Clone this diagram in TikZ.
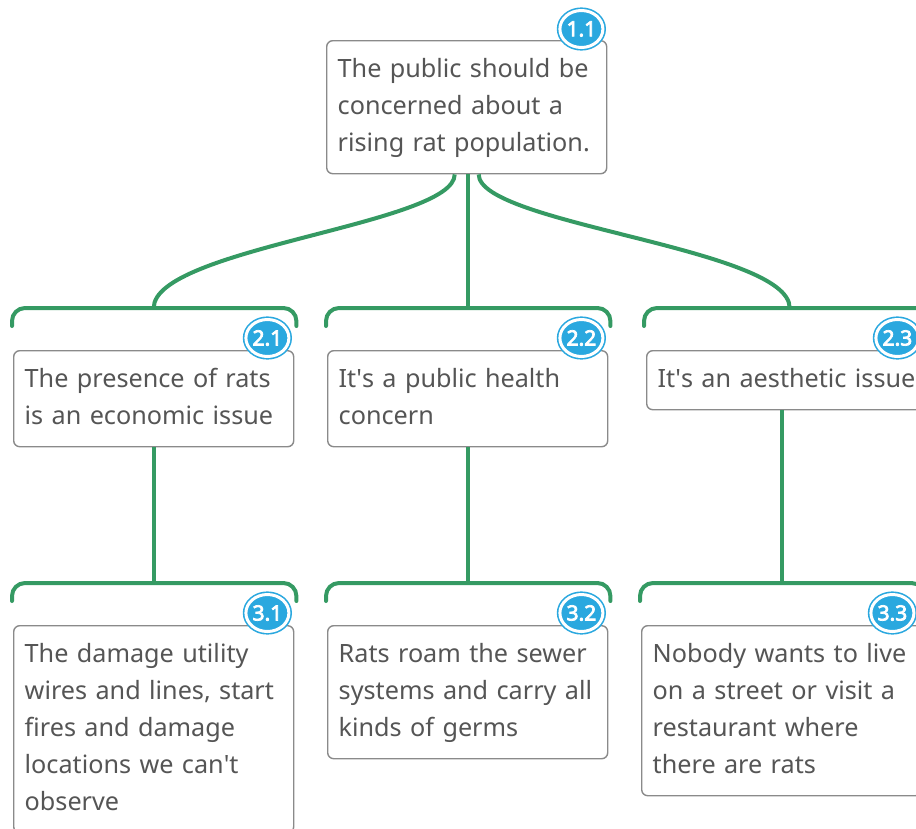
\documentclass[tikz,border=0pt]{standalone}
\usepackage{fontspec}
\setmainfont{Noto Sans}
\newfontfamily\badgefont{Noto Sans}[FakeBold=3.5]
\usepackage{tikz}
\usetikzlibrary{positioning}
\usetikzlibrary{shapes.geometric, calc}
\definecolor{linkgreen}{HTML}{359A63}
\definecolor{badgeblue}{HTML}{2AA8DF}
\definecolor{boxgray}{HTML}{8A8A8A}
\definecolor{textgray}{HTML}{555555}
\tikzstyle{claim} = [draw=boxgray,line width=1.4pt,rounded corners=6pt,fill=white,anchor=north west,text=textgray,font=\fontsize{25.2}{37}\selectfont,align=left,text width=258pt,inner xsep=11pt,inner ysep=11pt,execute at begin node=\strut,execute at end node=\strut]
\tikzstyle{badge} = [ellipse,draw=badgeblue,double=white,double distance=3pt,line width=1.6pt,fill=badgeblue,text=white,font=\fontsize{21}{21}\badgefont,minimum width=43pt,minimum height=37pt,inner sep=0pt]
\tikzstyle{link} = [draw=linkgreen,line width=4pt]
\tikzstyle{bracket} = [link,rounded corners=13pt,line cap=round]

\begin{document}
\begin{tikzpicture}[x=1pt,y=-1pt]
\useasboundingbox (0,0) rectangle (916,828);
\clip (0,0) rectangle (916,828);
%Nodes
\node[claim] (n11) at (326,40) {The public should be\\concerned about a\\rising rat population.};
\node[claim] (n21) at (13,350) {The presence of rats\\is an economic issue};
\node[claim] (n22) at (327,350) {It\textquotesingle s a public health\\concern};
\node[claim,text width=270pt] (n23) at (646,350) {It\textquotesingle s an aesthetic issue};
\node[claim] (n31) at (13,625) {The damage utility\\wires and lines, start\\fires and damage\\locations we can\textquotesingle t\\observe};
\node[claim] (n32) at (327,625) {Rats roam the sewer\\systems and carry all\\kinds of germs};
\node[claim] (n33) at (641,625) {Nobody wants to live\\on a street or visit a\\restaurant where\\there are rats};

%Badges
\node[badge] (t11) at ([shift={(-26,-11)}]n11.north east) {1.1};
\node[badge] (t21) at ([shift={(-27,-12)}]n21.north east) {2.1};
\node[badge] (t22) at ([shift={(-27,-12)}]n22.north east) {2.2};
\node[badge] (t23) at ([shift={(-42,-12)}]n23.north east) {2.3};
\node[badge] (t31) at ([shift={(-27,-12)}]n31.north east) {3.1};
\node[badge] (t32) at ([shift={(-27,-12)}]n32.north east) {3.2};
\node[badge] (t33) at ([shift={(-30,-12)}]n33.north east) {3.3};

%Brackets
\coordinate (b21) at ([yshift=42pt]n21.north);
\coordinate (b22) at ([yshift=42pt]n22.north);
\coordinate (b23) at ([shift={(-3,-42)}]n23.north);
\coordinate (b31) at ([yshift=42pt]n31.north);
\coordinate (b32) at ([yshift=42pt]n32.north);
\coordinate (b33) at ([yshift=42pt]n33.north);
\draw[bracket] ([shift={(-1,-24)}]n21.north west) |- (b21) -| ([shift={(2,-24)}]n21.north east);
\draw[bracket] ([shift={(-1,-24)}]n22.north west) |- (b22) -| ([shift={(2,-24)}]n22.north east);
\draw[bracket] ([shift={(-2,-24)}]n23.north west) |- (b23) -| ([shift={(2,-24)}]n23.north east);
\draw[bracket] ([shift={(-1,-24)}]n31.north west) |- (b31) -| ([shift={(2,-24)}]n31.north east);
\draw[bracket] ([shift={(-1,-24)}]n32.north west) |- (b32) -| ([shift={(2,-24)}]n32.north east);
\draw[bracket] ([shift={(-1,-24)}]n33.north west) |- (b33) -| ([shift={(2,-24)}]n33.north east);

%Lines
\draw[link] ([xshift=-12pt]n11.south) .. controls +(0,50) and +(0,-60) .. (b21);
\draw[link] (b22 |- n11.south) -- (b22);
\draw[link] ([xshift=12pt]n11.south) .. controls +(0,50) and +(0,-60) .. (b23);
\draw[link] (n21.south) -- (b31);
\draw[link] (n22.south) -- (b32);
\draw[link] (b33 |- n23.south) -- (b33);
\end{tikzpicture}
\end{document}
